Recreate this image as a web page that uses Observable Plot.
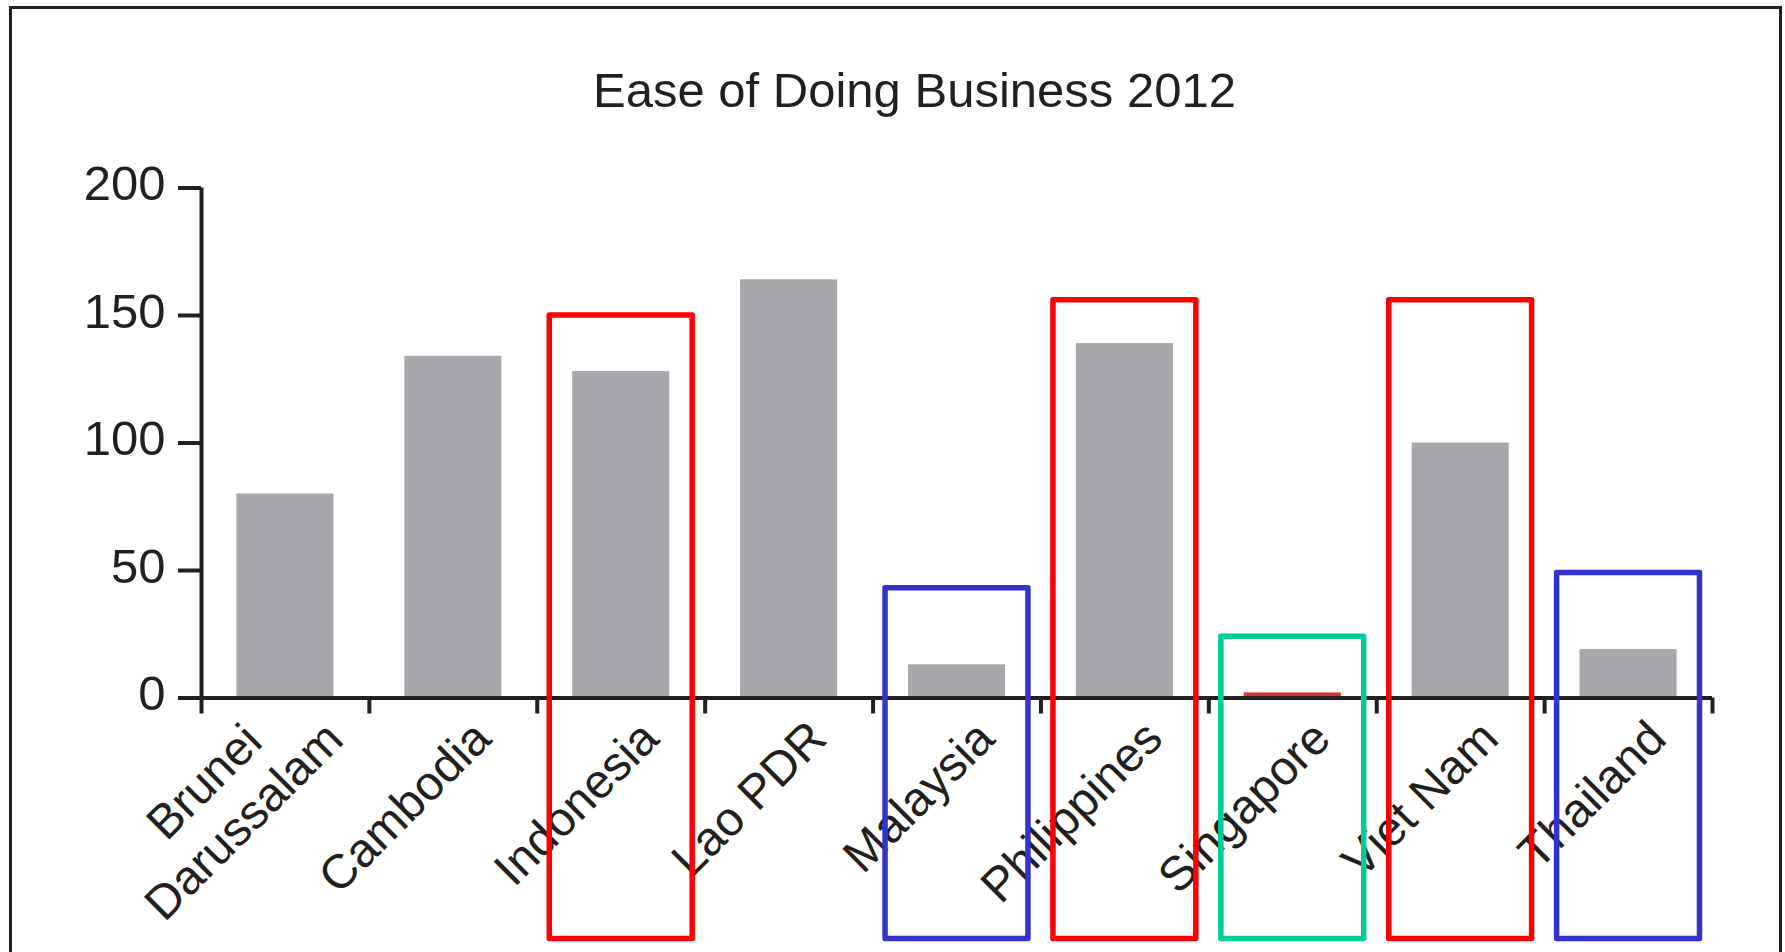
<!DOCTYPE html>
<html>
<head>
<meta charset="utf-8">
<script src="https://cdn.jsdelivr.net/npm/d3@7"></script>
<script src="https://cdn.jsdelivr.net/npm/@observablehq/plot@0.6"></script>
<style>
  html, body { margin: 0; padding: 0; background: #fff; overflow: hidden; }
  #wrap { position: relative; width: 1785px; height: 952px; }
  #chart { position: absolute; left: 0; top: 0; }
  #frame { position: absolute; left: 9px; top: 6px; width: 1767px; height: 1000px;
           border: 3px solid #231f20; border-bottom: none; pointer-events: none; }
  #title { position: absolute; left: 414.5px; width: 1000px; top: 65.5px; text-align: center;
           font-family: "Liberation Sans", Arial, Helvetica, sans-serif; font-size: 49px; line-height: 49px;
           color: #231f20; white-space: nowrap; }
</style>
</head>
<body>
<div id="wrap">
  <div id="chart"></div>
  <div id="frame"></div>
  <div id="title">Ease of Doing Business 2012</div>
</div>
<script>
// ---- data ----
const countries = ["Brunei Darussalam", "Cambodia", "Indonesia", "Lao PDR", "Malaysia", "Philippines", "Singapore", "Viet Nam", "Thailand"];
const tickLabels = ["Brunei\nDarussalam", "Cambodia", "Indonesia", "Lao PDR", "Malaysia", "Philippines", "Singapore", "Viet Nam", "Thailand"];
const rank2012 = [80, 134, 128, 164, 13, 139, 2, 100, 19];
const yTicks = [0, 50, 100, 150, 200];
const boxCountries = ["Indonesia", "Malaysia", "Philippines", "Singapore", "Viet Nam", "Thailand"];
const boxGroups = ["lagging", "leading", "lagging", "best", "lagging", "leading"];
const boxTops = [150, 43, 156, 24, 156, 49];

// ---- derived tables ----
const bars = countries.map((c, i) => ({country: c, label: tickLabels[i], value: rank2012[i], i}));
const boxes = boxCountries.map((c, k) => ({country: c, group: boxGroups[k], top: boxTops[k], i: countries.indexOf(c)}));
const best = d3.min(rank2012);

// ---- styles ----
const font = '"Liberation Sans", Arial, Helvetica, sans-serif';
const ink = "#231f20";
const groupColor = {lagging: "#ff0000", leading: "#3333cc", best: "#00cc99"};
const labelSize = 48;
const labelDx = 40, labelDy = 43;
const lineW = 4;

// centre a multi-line label so its longest line ends near where single-line labels end
const ctx = document.createElement("canvas").getContext("2d");
ctx.font = `${labelSize}px ${font}`;
const singles = bars.filter(d => !d.label.includes("\n"));
const multis = bars.filter(d => d.label.includes("\n"));
const multiW = multis.length ? d3.max(multis[0].label.split("\n"), s => ctx.measureText(s).width) : 0;
const half = (multiW / 2) * Math.SQRT1_2;

const plot = Plot.plot({
  width: 1785,
  height: 952,
  marginTop: 187.5,
  marginBottom: 254.5,
  marginLeft: 201,
  marginRight: 73,
  style: {background: "transparent", fontFamily: font, fontSize: "49px", color: ink, overflow: "visible"},
  x: {type: "linear", domain: [0, countries.length], label: null},
  y: {domain: [0, 200], label: null},
  color: {type: "identity"},
  marks: [
    Plot.rectY(bars, {
      x1: "i", x2: d => d.i + 1, y: "value",
      insetLeft: 35.4, insetRight: 35.4,
      fill: d => d.value === best ? "#d7342c" : "#a7a8ab"
    }),
    Plot.axisY({ticks: yTicks, tickSize: 23, tickFormat: () => "", label: null, stroke: ink, strokeWidth: lineW}),
    Plot.text(yTicks, {
      x: 0, y: d => d, text: d => String(d),
      textAnchor: "end", lineAnchor: "bottom", dx: -36, dy: 12,
      fontSize: 49, fill: ink
    }),
    Plot.axisX({ticks: d3.range(countries.length + 1), tickSize: 16, tickFormat: () => "", label: null, stroke: ink, strokeWidth: lineW}),
    Plot.ruleX([0], {stroke: ink, strokeWidth: lineW}),
    Plot.ruleY([0], {stroke: ink, strokeWidth: lineW}),
    Plot.text(singles, {
      x: d => d.i + 0.5, y: 0, text: "label",
      rotate: -45, textAnchor: "end", lineAnchor: "bottom",
      dx: labelDx, dy: labelDy, fontSize: labelSize, fill: ink
    }),
    Plot.text(multis, {
      x: d => d.i + 0.5, y: 0, text: "label",
      rotate: -45, textAnchor: "middle", lineAnchor: "bottom", lineHeight: 1.16,
      dx: labelDx - half + 20, dy: labelDy + half + 1, fontSize: labelSize, fill: ink
    }),
    Plot.rect(boxes, {
      x1: "i", x2: d => d.i + 1, y1: -94.5, y2: "top",
      insetLeft: 12.5, insetRight: 12.5,
      stroke: d => groupColor[d.group], fill: "none",
      strokeWidth: 5.5, strokeLinejoin: "round"
    })
  ]
});
document.getElementById("chart").appendChild(plot);
</script>
</body>
</html>
